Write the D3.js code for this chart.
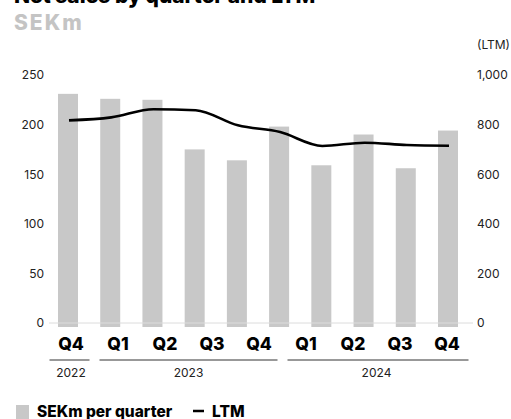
<!DOCTYPE html>
<html>
<head>
<meta charset="utf-8">
<script src="https://cdn.jsdelivr.net/npm/d3@7"></script>
<style>
  html, body { margin: 0; padding: 0; background: #fff; }
  svg { display: block; font-family: Inter, "Noto Sans", sans-serif; }
</style>
</head>
<body>
<div id="chart"></div>
<script>
// Bars per quarter (10 bars drawn in the source) and LTM line
const periods = ["P1", "P2", "P3", "P4", "P5", "P6", "P7", "P8", "P9", "P10"];
const salesQuarter = [231, 226, 225, 175, 164, 198, 159, 190, 156, 194];
const salesLTM = [817, 829, 862, 858, 797, 770, 714, 727, 718, 715];

// Axis labels under the chart
const tickLabels = ["Q4", "Q1", "Q2", "Q3", "Q4", "Q1", "Q2", "Q3", "Q4"];
const years = ["2022", "2023", "2024"];
const yearStart = [0, 1, 5];
const yearEnd = [0, 4, 8];

const leftTicks = [0, 50, 100, 150, 200, 250];
const rightTicks = [0, 200, 400, 600, 800, 1000];

const width = 511, height = 419;

const svg = d3.select("#chart")
    .append("svg")
    .attr("width", width)
    .attr("height", height);

// Title (partly above the visible area) and unit
svg.append("text")
    .attr("x", 14).attr("y", 3)
    .attr("font-size", 21).attr("font-weight", 800)
    .attr("fill", "#000")
    .text("Net sales by quarter and LTM");

svg.append("text")
    .attr("x", 14).attr("y", 30)
    .attr("font-size", 21).attr("font-weight", 800)
    .attr("letter-spacing", 2)
    .attr("fill", "#c4c4c4")
    .text("SEKm");

// Scales
const x = d3.scalePoint().domain(periods).range([68, 448]);
const xLab = d3.scalePoint().domain(d3.range(tickLabels.length)).range([71, 447]);
const y = d3.scaleLinear().domain([0, 250]).range([323, 75]);
const y2 = d3.scaleLinear().domain([0, 1000]).range([323, 75]);

// Left axis
svg.append("g")
    .attr("transform", "translate(44,0)")
    .call(d3.axisLeft(y).tickValues(leftTicks).tickSize(0).tickPadding(0))
    .call(g => g.select(".domain").remove())
    .selectAll("text")
    .attr("font-family", "Inter, sans-serif")
    .attr("font-size", 12)
    .attr("fill", "#222");

// Right axis
svg.append("g")
    .attr("transform", "translate(477,0)")
    .call(d3.axisRight(y2).tickValues(rightTicks).tickSize(0).tickPadding(0)
        .tickFormat(d3.format(",")))
    .call(g => g.select(".domain").remove())
    .selectAll("text")
    .attr("font-family", "Inter, sans-serif")
    .attr("font-size", 12)
    .attr("fill", "#222");

svg.append("text")
    .attr("x", 477).attr("y", 45)
    .attr("dy", "0.35em")
    .attr("font-size", 12).attr("fill", "#222")
    .text("(LTM)");

// Bars
svg.append("g")
    .selectAll("rect")
    .data(salesQuarter)
    .join("rect")
    .attr("x", (d, i) => x(periods[i]) - 10)
    .attr("width", 20)
    .attr("y", d => y(d))
    .attr("height", d => y(0) - y(d) + 4)
    .attr("fill", "#c8c8c8");

// Baseline
svg.append("line")
    .attr("x1", 49).attr("x2", 473)
    .attr("y1", y(0)).attr("y2", y(0))
    .attr("stroke", "#dcdcdc")
    .attr("stroke-width", 1);

// LTM line
svg.append("path")
    .datum(salesLTM)
    .attr("fill", "none")
    .attr("stroke", "#000")
    .attr("stroke-width", 2.6)
    .attr("stroke-linejoin", "round")
    .attr("d", d3.line()
        .x((d, i) => x(periods[i]) + 1)
        .y(d => y2(d))
        .curve(d3.curveMonotoneX));

// Quarter labels
svg.append("g")
    .selectAll("text")
    .data(tickLabels)
    .join("text")
    .attr("x", (d, i) => xLab(i))
    .attr("y", 350)
    .attr("text-anchor", "middle")
    .attr("font-size", 17.5).attr("font-weight", 800)
    .attr("fill", "#000")
    .text(d => d);

// Year groups
const step = xLab.step();
const yearGroup = svg.append("g")
    .selectAll("g")
    .data(years)
    .join("g");

yearGroup.append("line")
    .attr("x1", (d, i) => xLab(yearStart[i]) - step / 2 + (i === 0 ? 2 : 5))
    .attr("x2", (d, i) => xLab(yearEnd[i]) + step / 2 - (i === years.length - 1 ? 2 : 5))
    .attr("y1", 360).attr("y2", 360)
    .attr("stroke", "#333")
    .attr("stroke-width", 1);

yearGroup.append("text")
    .attr("x", (d, i) => (xLab(yearStart[i]) - step / 2 + xLab(yearEnd[i]) + step / 2) / 2)
    .attr("y", 377)
    .attr("text-anchor", "middle")
    .attr("font-size", 12)
    .attr("fill", "#222")
    .text(d => d);

// Legend
const legend = svg.append("g");
legend.append("rect")
    .attr("x", 16).attr("y", 405)
    .attr("width", 13).attr("height", 14)
    .attr("fill", "#c8c8c8");
legend.append("text")
    .attr("x", 37).attr("y", 417)
    .attr("font-size", 15.5).attr("font-weight", 800)
    .attr("fill", "#000")
    .text("SEKm per quarter");
legend.append("line")
    .attr("x1", 193).attr("x2", 204)
    .attr("y1", 411).attr("y2", 411)
    .attr("stroke", "#000").attr("stroke-width", 2.5);
legend.append("text")
    .attr("x", 212).attr("y", 417)
    .attr("font-size", 15.5).attr("font-weight", 800)
    .attr("fill", "#000")
    .text("LTM");
</script>
</body>
</html>
